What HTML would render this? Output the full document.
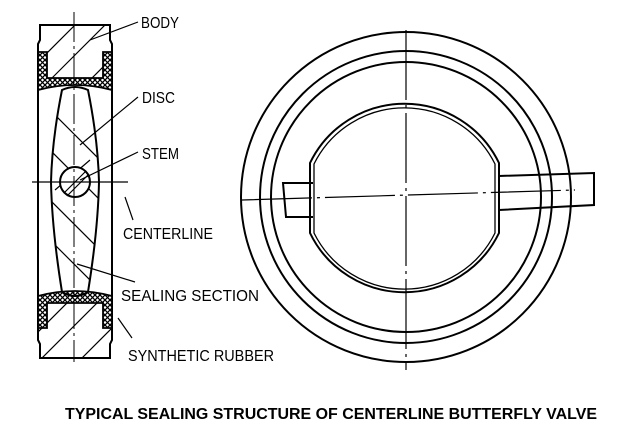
<!DOCTYPE html>
<html><head><style>
html,body{margin:0;padding:0;background:#fff;}
svg{display:block;}
text{font-family:"Liberation Sans",sans-serif;fill:#000;}
</style></head><body>
<svg width="640" height="441" viewBox="0 0 640 441" xmlns="http://www.w3.org/2000/svg">
<defs>
<pattern id="xh" width="5" height="5" patternUnits="userSpaceOnUse">
<rect width="5" height="5" fill="#fff"/>
<path d="M0 0L5 5M5 0L0 5" stroke="#000" stroke-width="1.3"/>
</pattern>
<clipPath id="bt"><path d="M40 25H110V40L112 44V90Q75 80 38 90V44L40 40Z"/></clipPath>
<clipPath id="bb"><path d="M38 296Q75 286 112 296V340L110 344V358H40V344L38 340Z"/></clipPath>
<clipPath id="dc"><path d="M62 90Q75 84 88 90Q98 140 99 182Q98 230 88 292Q75 300 62 292Q52 230 51 182Q52 140 62 90Z"/></clipPath>
</defs>
<g fill="none" stroke="#000" stroke-width="2">
<path d="M40 25H110V40L112 44V340L110 344V358H40V344L38 340V44L40 40Z"/>
<g clip-path="url(#bt)" stroke-width="1.2">
<path d="M30 70L80 20M50 80L110 20M80 90L120 50"/>
</g>
<g clip-path="url(#bb)" stroke-width="1.2">
<path d="M30 340L80 290M40 360L110 290M70 370L130 310"/>
</g>
<path d="M38 52H47V78H103V52H112V90Q75 80 38 90Z" fill="url(#xh)" stroke-width="1.8"/>
<path d="M38 296Q75 286 112 296V328H103V303H47V328H38Z" fill="url(#xh)" stroke-width="1.8"/>
<path d="M62 90Q75 84 88 90Q98 140 99 182Q98 230 88 292Q75 300 62 292Q52 230 51 182Q52 140 62 90Z"/>
<g clip-path="url(#dc)" stroke-width="1.2">
<path d="M40 100L110 170M40 140L110 210M40 190L110 260M40 230L110 300M55 190L90 160"/>
</g>
<circle cx="75" cy="182" r="15" fill="#fff"/>
<path d="M64 193L86 171M67 196L89 174" stroke-width="1.2"/>
<path d="M74 12V362" stroke-width="1" stroke-dasharray="30 4 3 4"/>
<path d="M32 182H128" stroke-width="1.2"/>
<path d="M138 22L90 40M138 97L80 145M138 152L80 180M125 197L133 220M77 264L135 282M118 318L132 338" stroke-width="1.2"/>
<circle cx="406" cy="197" r="165"/>
<circle cx="406" cy="197" r="146"/>
<circle cx="406" cy="197" r="135"/>
<path d="M310 233V163A105 105 0 0 1 499 163V233A105 105 0 0 1 310 233Z" fill="#fff"/>
<path d="M314 233V164A101 101 0 0 1 495 164V233A101 101 0 0 1 314 233Z" stroke-width="1.3"/>
<path d="M313 183H283L286 217H313"/>
<path d="M499 176L594 173V205L499 210"/>
<path d="M406 30V370" stroke-width="1.2" stroke-dasharray="70 5 3 5"/>
<path d="M242 200L575 190" stroke-width="1.2" stroke-dasharray="70 5 3 5"/>
</g>
<g font-size="16">
<text x="141" y="28" textLength="38" lengthAdjust="spacingAndGlyphs">BODY</text>
<text x="142" y="103" textLength="33" lengthAdjust="spacingAndGlyphs">DISC</text>
<text x="142" y="159" textLength="37" lengthAdjust="spacingAndGlyphs">STEM</text>
<text x="123" y="239" textLength="90" lengthAdjust="spacingAndGlyphs">CENTERLINE</text>
<text x="121" y="301" textLength="138" lengthAdjust="spacingAndGlyphs">SEALING SECTION</text>
<text x="128" y="361" textLength="146" lengthAdjust="spacingAndGlyphs">SYNTHETIC RUBBER</text>
<text x="65" y="419" font-size="16" font-weight="bold" textLength="532" lengthAdjust="spacingAndGlyphs">TYPICAL SEALING STRUCTURE OF CENTERLINE BUTTERFLY VALVE</text>
</g>
</svg>
</body></html>
